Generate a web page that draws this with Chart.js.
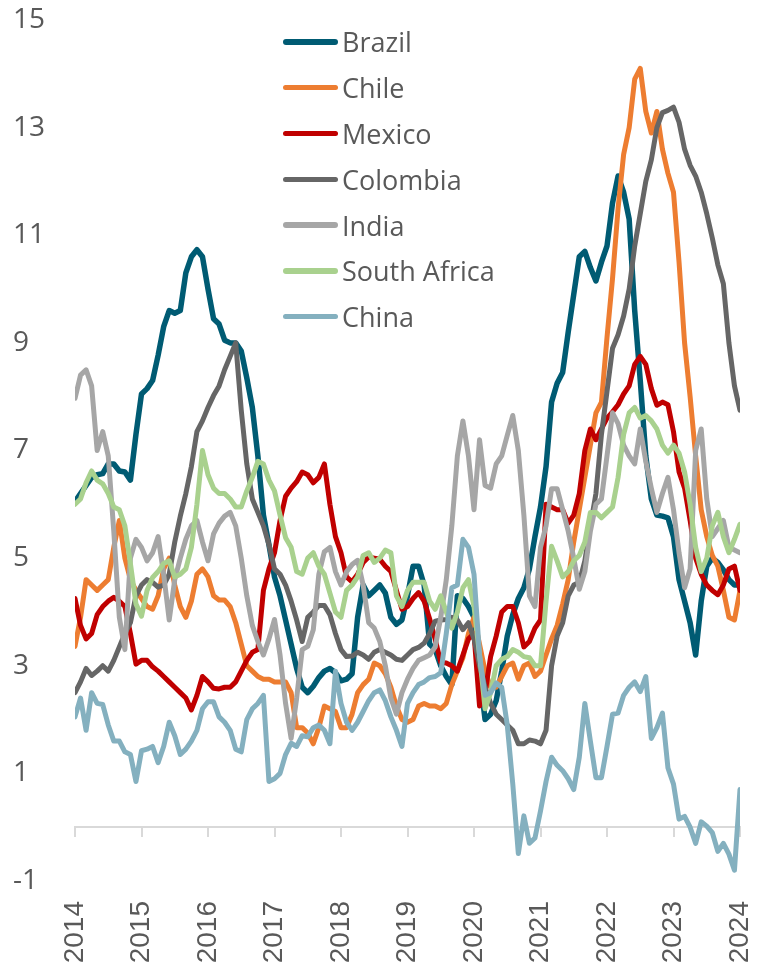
<!DOCTYPE html>
<html>
<head>
<meta charset="utf-8">
<script src="https://cdn.jsdelivr.net/npm/chart.js@4.4.1/dist/chart.umd.min.js"></script>
<style>
    html, body { margin: 0; padding: 0; background: #fff; }
    #wrap { position: relative; width: 757px; height: 969px; }
    #legend {
        position: absolute; left: 283px; top: 19px;
        font-family: "Open Sans", sans-serif; font-size: 27px; color: #595959;
    }
    .item { height: 45.8px; display: flex; align-items: center; white-space: nowrap; }
    .swatch { width: 55px; border-radius: 3px; margin-right: 4px; }
</style>
</head>
<body>
<div id="wrap">
    <canvas id="chart" width="757" height="969"></canvas>
    <div id="legend"></div>
</div>
<script>
// données mensuelles, janvier 2014 -> janvier 2024
const startYear = 2014;
const years = [2014, 2015, 2016, 2017, 2018, 2019, 2020, 2021, 2022, 2023, 2024];
const yTicks = [-1, 1, 3, 5, 7, 9, 11, 13, 15];

const names = ["Brazil", "Chile", "Mexico", "Colombia", "India", "South Africa", "China"];
const colors = ["#005B73", "#ED7D31", "#C00000", "#666666", "#A6A6A6", "#A9D18E", "#84B0BF"];

const brazil = [
    6.05, 6.2, 6.35, 6.5, 6.55, 6.57, 6.75, 6.75, 6.62, 6.6,
    6.45, 7.3, 8.05, 8.15, 8.3, 8.77, 9.3, 9.6, 9.55, 9.6,
    10.3, 10.6, 10.73, 10.6, 10.0, 9.45, 9.35, 9.05, 9.0, 9.0,
    8.85, 8.35, 7.8, 6.9, 5.8, 5.25, 4.65, 4.3, 3.85, 3.4,
    2.95, 2.6, 2.5, 2.62, 2.78, 2.9, 2.95, 2.87, 2.72, 2.75,
    2.85, 3.9, 4.5, 4.3, 4.4, 4.5, 4.35, 3.9, 3.77, 3.85,
    4.3, 4.85, 4.85, 4.5, 3.4, 3.3, 3.0, 2.8, 2.65, 4.3,
    4.25, 4.1, 3.9, 2.85, 2.0, 2.1, 2.35, 2.9, 3.55, 3.95,
    4.25, 4.45, 4.8, 5.4, 5.95, 6.7, 7.9, 8.25, 8.45, 9.2,
    9.9, 10.6, 10.7, 10.4, 10.15, 10.5, 10.8, 11.6, 12.1, 11.8,
    11.3, 9.6, 8.3, 6.9, 6.1, 5.8, 5.78, 5.75, 5.4, 4.6,
    4.2, 3.8, 3.2, 4.2, 4.85, 5.0, 4.92, 4.78, 4.6, 4.5,
    4.5
];
const chile = [
    3.36, 3.9, 4.6, 4.5, 4.4, 4.5, 4.6, 5.2, 5.7, 5.0,
    4.6, 4.4, 4.25, 4.1, 4.05, 4.3, 4.8, 5.0, 4.5, 4.1,
    3.9, 4.2, 4.7, 4.8, 4.65, 4.3, 4.22, 4.22, 4.1, 3.8,
    3.4, 3.0, 2.9, 2.8, 2.75, 2.75, 2.7, 2.7, 2.7, 2.5,
    1.85, 1.85, 1.75, 1.55, 1.85, 2.25, 2.2, 2.15, 1.85, 1.85,
    2.1, 2.5, 2.65, 2.75, 3.05, 3.0, 2.85, 2.6, 2.25, 2.0,
    1.95, 2.0, 2.25, 2.3, 2.25, 2.25, 2.2, 2.3, 2.65, 2.9,
    3.15, 3.6, 3.9, 3.4, 2.9, 2.6, 2.6, 2.8, 3.0, 3.05,
    2.75, 3.0, 3.05, 2.8, 2.9, 3.2, 3.5, 3.75, 4.15, 4.6,
    5.3, 5.9, 6.5, 7.1, 7.7, 7.9, 9.1, 10.2, 11.5, 12.5,
    13.0, 13.9, 14.1, 13.3, 12.9, 13.3, 12.6, 12.15, 11.8, 10.5,
    9.0, 8.0, 6.9, 5.9, 5.4, 5.05, 4.85, 4.4, 3.9, 3.85,
    4.4
];
const mexico = [
    4.25, 3.75, 3.5, 3.6, 3.95, 4.1, 4.2, 4.27, 4.2, 4.1,
    3.6, 3.03, 3.1, 3.1, 2.98, 2.9, 2.8, 2.7, 2.6, 2.5,
    2.4, 2.18, 2.45, 2.8, 2.7, 2.58, 2.57, 2.6, 2.6, 2.7,
    2.9, 3.1, 3.25, 3.3, 4.4, 4.8, 5.1, 5.7, 6.15, 6.3,
    6.42, 6.6, 6.55, 6.4, 6.5, 6.75, 6.0, 5.4, 5.1, 4.65,
    4.56, 4.7, 4.92, 5.02, 5.0, 4.98, 4.85, 4.75, 4.4, 4.05,
    4.1, 4.25, 4.36, 4.2, 3.87, 3.49, 3.06, 3.05, 3.0, 2.9,
    3.2, 3.5, 3.6, 2.25, 2.5, 3.17, 3.55, 4.0, 4.1, 4.1,
    3.8, 3.35, 3.45, 3.7, 3.85, 6.0, 5.95, 5.9, 5.9, 5.65,
    5.8, 6.2, 7.0, 7.4, 7.2, 7.4, 7.6, 7.72, 7.85, 8.05,
    8.2, 8.6, 8.75, 8.6, 8.15, 7.84, 7.9, 7.85, 7.35, 6.6,
    6.3, 5.7, 5.0, 4.7, 4.5, 4.4, 4.32, 4.5, 4.8, 4.85,
    4.4
];
const colombia = [
    2.5, 2.7, 2.95, 2.82, 2.9, 3.0, 2.9, 3.1, 3.35, 3.6,
    3.8, 4.3, 4.5, 4.6, 4.55, 4.46, 4.5, 4.7, 5.3, 5.78,
    6.2, 6.7, 7.35, 7.55, 7.8, 8.02, 8.2, 8.5, 8.75, 9.0,
    7.75, 6.75, 6.1, 5.85, 5.6, 5.25, 4.8, 4.7, 4.5, 4.2,
    3.85, 3.45, 3.9, 4.0, 4.12, 4.12, 3.95, 3.6, 3.3, 3.17,
    3.18, 3.25, 3.2, 3.12, 3.25, 3.3, 3.25, 3.2, 3.12, 3.1,
    3.2, 3.3, 3.34, 3.42, 3.6, 3.83, 3.85, 3.86, 3.9, 3.85,
    3.67, 3.8, 3.5, 3.0, 2.6, 2.3, 2.1, 2.0, 1.9, 1.8,
    1.55, 1.55, 1.62, 1.6, 1.55, 1.8, 3.0, 3.55, 3.8, 4.3,
    4.5, 4.55, 4.95, 5.6, 6.2, 7.3, 8.1, 8.9, 9.15, 9.5,
    10.0, 10.8, 11.4, 12.0, 12.4, 13.0, 13.28, 13.32, 13.38, 13.1,
    12.6, 12.3, 12.1, 11.8, 11.4, 10.95, 10.45, 10.1, 9.0, 8.2,
    7.75
];
const india = [
    7.97, 8.4, 8.5, 8.2, 7.0, 7.35, 6.9, 5.5, 3.9, 3.3,
    5.0, 5.35, 5.2, 4.95, 5.1, 5.4, 4.7, 3.85, 4.6, 5.0,
    5.35, 5.6, 5.7, 5.3, 4.95, 5.45, 5.65, 5.78, 5.85, 5.6,
    5.0, 4.3, 3.75, 3.45, 3.2, 3.5, 3.86, 3.2, 2.3, 1.65,
    2.4, 3.3, 3.36, 3.67, 4.7, 5.12, 5.2, 4.75, 4.5, 4.75,
    4.88, 4.96, 4.5, 3.8, 3.7, 3.45, 3.0, 2.4, 2.1, 2.5,
    2.75, 2.95, 3.1, 3.15, 3.2, 3.35, 3.9, 4.6, 5.6, 6.9,
    7.55, 6.9, 5.9, 7.2, 6.35, 6.3, 6.75, 6.9, 7.28, 7.65,
    7.0, 5.8, 4.3, 4.1, 5.2, 5.6, 6.29, 6.29, 5.9, 5.5,
    5.0, 4.42, 4.75, 5.5, 6.0, 6.1, 6.9, 7.7, 7.5, 7.1,
    6.9, 6.75, 7.4, 6.8, 6.3, 5.85, 6.2, 6.5, 5.9, 5.1,
    4.45, 4.8, 7.0, 7.4, 6.1, 5.4, 5.55, 5.7, 5.2, 5.15,
    5.1
];
const southAfrica = [
    6.0, 6.1, 6.4, 6.62, 6.45, 6.38, 6.2, 5.95, 5.9, 5.6,
    4.9, 4.15, 3.92, 4.4, 4.64, 4.75, 4.9, 4.95, 4.65, 4.7,
    4.8, 5.2, 6.0, 7.0, 6.55, 6.3, 6.2, 6.2, 6.1, 5.95,
    5.95, 6.25, 6.5, 6.8, 6.75, 6.45, 6.25, 5.8, 5.38, 5.2,
    4.75, 4.7, 5.0, 5.1, 4.85, 4.7, 4.35, 4.0, 3.9, 4.4,
    4.5, 4.65, 5.05, 5.1, 4.92, 5.0, 5.15, 5.1, 4.3, 4.1,
    4.4, 4.55, 4.55, 4.55, 4.2, 4.05, 4.3, 4.0, 3.7, 4.0,
    4.45, 4.6, 4.1, 3.2, 2.2, 2.5, 3.0, 3.12, 3.17, 3.3,
    3.25, 3.17, 3.15, 3.0, 3.0, 4.2, 5.22, 4.95, 4.65, 4.75,
    4.95, 5.05, 5.3, 5.85, 5.85, 5.75, 5.85, 5.95, 6.5, 7.3,
    7.7, 7.8, 7.6, 7.65, 7.55, 7.4, 7.1, 6.95, 7.1, 6.95,
    6.6, 6.0, 5.2, 4.75, 5.0, 5.6, 5.85, 5.4, 5.1, 5.35,
    5.63
];
const china = [
    2.05, 2.4, 1.8, 2.5, 2.3, 2.28, 1.9, 1.6, 1.6, 1.4,
    1.35, 0.85, 1.42, 1.45, 1.5, 1.2, 1.5, 1.95, 1.7, 1.35,
    1.45, 1.6, 1.8, 2.2, 2.33, 2.33, 2.05, 1.95, 1.8, 1.45,
    1.4, 2.0, 2.2, 2.3, 2.45, 0.85, 0.9, 1.0, 1.35, 1.56,
    1.5, 1.7, 1.68, 1.85, 1.9, 1.8, 1.55, 2.9, 2.3, 1.95,
    1.8, 1.95, 2.15, 2.35, 2.5, 2.55, 2.35, 2.05, 1.8, 1.5,
    2.3, 2.5, 2.65, 2.7, 2.78, 2.8, 2.87, 3.6, 4.45, 4.5,
    5.35, 5.2, 4.7, 3.2, 2.45, 2.5, 2.68, 2.6, 1.9, 0.8,
    -0.49, 0.21, -0.3, -0.2, 0.3, 0.85, 1.3, 1.15, 1.05, 0.9,
    0.7, 1.3, 2.3, 1.6, 0.92, 0.92, 1.5, 2.1, 2.12, 2.45,
    2.6, 2.7, 2.52, 2.8, 1.65, 1.85, 2.12, 1.1, 0.8, 0.15,
    0.2, 0.0, -0.3, 0.1, 0.02, -0.1, -0.45, -0.3, -0.5, -0.8,
    0.7
];

const series = [brazil, chile, mexico, colombia, india, southAfrica, china];

// un point par mois
function toPoints(values) {
    return values.map((v, i) => ({ x: startYear + i / 12, y: v }));
}

const datasets = series.map((values, i) => ({
    label: names[i],
    data: toPoints(values),
    borderColor: colors[i],
    backgroundColor: colors[i],
    borderWidth: i === 0 ? 5.5 : 5,
    pointRadius: 0,
    tension: 0,
    borderJoinStyle: "round",
    borderCapStyle: "round",
    // la Chine dessinée en dernier (au-dessus)
    order: names.length - i
}));

const ctx = document.getElementById("chart").getContext("2d");

const chart = new Chart(ctx, {
    type: "line",
    data: { datasets: datasets },
    options: {
        responsive: false,
        animation: false,
        layout: { padding: { top: 20, left: 13, right: 17, bottom: 5 } },
        plugins: {
            legend: { display: false },
            tooltip: { enabled: false }
        },
        scales: {
            // axe du zéro avec les petites graduations
            x: {
                type: "linear",
                position: { y: 0 },
                min: 2014,
                max: 2024,
                afterBuildTicks: (scale) => { scale.ticks = years.map(v => ({ value: v })); },
                ticks: { display: false },
                grid: {
                    display: true,
                    drawOnChartArea: false,
                    drawTicks: true,
                    tickLength: 9,
                    color: "#D9D9D9",
                    lineWidth: 2
                },
                border: { display: true, color: "#D9D9D9", width: 2 }
            },
            // étiquettes des années en bas
            x2: {
                type: "linear",
                position: "bottom",
                min: 2014,
                max: 2024,
                afterBuildTicks: (scale) => { scale.ticks = years.map(v => ({ value: v })); },
                afterFit: (scale) => {
                    scale.height = 83;
                    scale.paddingLeft = 0;
                    scale.paddingRight = 0;
                },
                ticks: {
                    autoSkip: false,
                    minRotation: 90,
                    maxRotation: 90,
                    padding: 20,
                    color: "#595959",
                    font: { family: "Liberation Sans", size: 28 },
                    callback: (v) => String(v)
                },
                grid: { display: false, drawTicks: false },
                border: { display: false }
            },
            y: {
                min: -1,
                max: 15,
                afterBuildTicks: (scale) => { scale.ticks = yTicks.map(v => ({ value: v })); },
                afterFit: (scale) => { scale.width = 62; },
                ticks: {
                    crossAlign: "far",
                    color: "#595959",
                    font: { family: "Open Sans", size: 28 }
                },
                grid: { display: false },
                border: { display: false }
            }
        }
    }
});

// légende HTML au-dessus du graphique
const legend = document.getElementById("legend");
names.forEach((name, i) => {
    const div = document.createElement("div");
    div.className = "item";
    const sw = document.createElement("span");
    sw.className = "swatch";
    sw.style.background = colors[i];
    sw.style.height = (i === 0 ? 6.5 : 5.5) + "px";
    const txt = document.createElement("span");
    txt.textContent = name;
    div.appendChild(sw);
    div.appendChild(txt);
    legend.appendChild(div);
});
</script>
</body>
</html>
